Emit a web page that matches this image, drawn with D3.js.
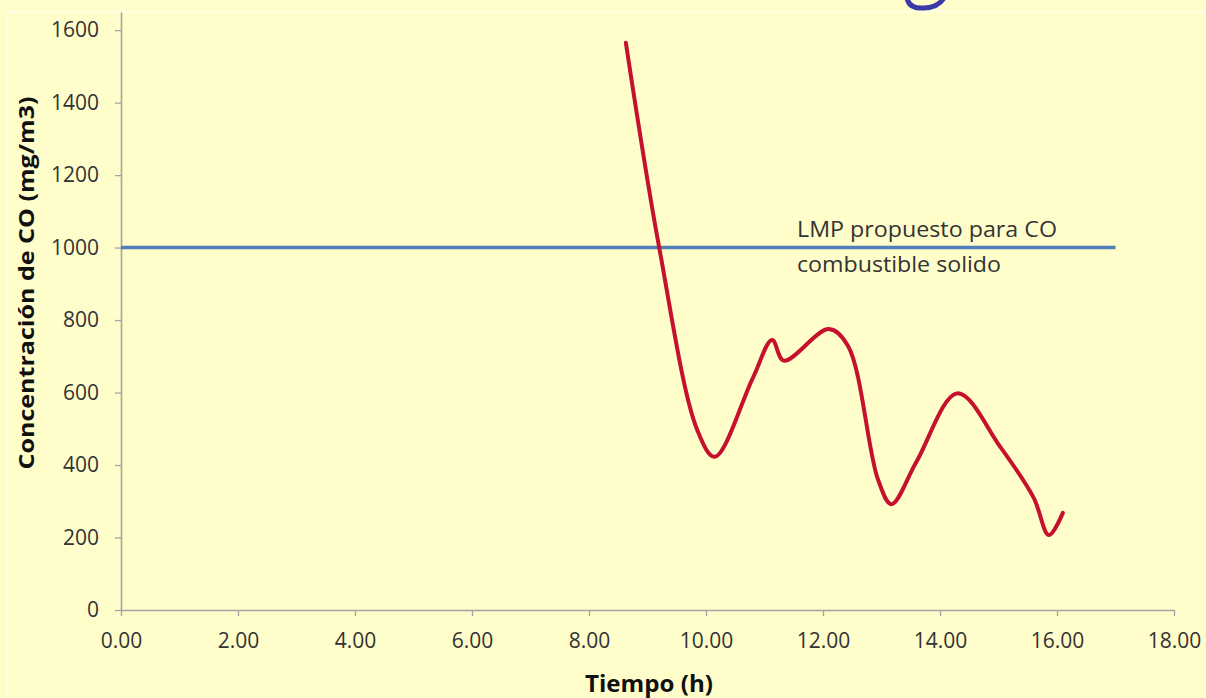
<!DOCTYPE html>
<html>
<head>
<meta charset="utf-8">
<script src="https://cdn.jsdelivr.net/npm/d3@7"></script>
<style>
  html, body { margin: 0; padding: 0; background: #FFFDCA; }
  svg { display: block; }
</style>
</head>
<body>
<svg id="chart" width="1206" height="698"></svg>
<script>
// ---- data ----
const coTimes  = [8.63, 9.2, 9.85, 10.15, 10.8, 11.13, 11.33, 12.1, 12.43, 12.94, 13.17, 13.6, 14.3, 15.03, 15.6, 15.86, 16.1];
const coValues = [1565, 1000, 497, 423, 640, 745, 688, 775, 728, 360, 292, 410, 598, 450, 310, 207, 268];
const limitTimes  = [0, 17];
const limitValues = [1000, 1000];
const xTickValues = [0, 2, 4, 6, 8, 10, 12, 14, 16, 18];
const yTickValues = [0, 200, 400, 600, 800, 1000, 1200, 1400, 1600];
const xTitle = "Tiempo (h)";
const yTitle = "Concentración de CO (mg/m3)";
const noteLines = ["LMP propuesto para CO", "combustible solido"];

const svg = d3.select("#chart");

// background + chart-area border lines
svg.append("rect").attr("width", 1206).attr("height", 698).attr("fill", "#FFFDCA");
svg.append("line").attr("x1", 7).attr("x2", 1206).attr("y1", 11.5).attr("y2", 11.5)
   .attr("stroke", "#FFFFEE").attr("stroke-width", 1.5);
svg.append("line").attr("x1", 7.5).attr("x2", 7.5).attr("y1", 11).attr("y2", 698)
   .attr("stroke", "#FFFFEE").attr("stroke-width", 1.5);

// cropped decorative glyph at top
svg.append("path").attr("d", "M907,-2 Q909,9 924,8 Q938,7.5 944,-2")
   .attr("fill", "none").attr("stroke", "#3A3AA8").attr("stroke-width", 5).attr("stroke-linecap", "round");

const x = d3.scaleLinear().domain([0, 18]).range([121, 1174]);
const y = d3.scaleLinear().domain([0, 1650]).range([610, 12]);

const axisColor = "#A3A3A3";
const tickFont = "'Open Sans', 'Liberation Sans', sans-serif";

// y axis
const gy = svg.append("g").attr("transform", `translate(${x(0)},0)`)
  .call(d3.axisLeft(y).tickValues(yTickValues).tickSize(6).tickSizeOuter(0).tickPadding(16).tickFormat(d3.format("d")));
gy.select(".domain").attr("stroke", axisColor).attr("stroke-width", 1.6);
gy.selectAll(".tick line").attr("stroke", axisColor).attr("stroke-width", 1.3);
gy.selectAll(".tick text").attr("fill", "#333333").style("font-family", tickFont).style("font-size", "21px");

// x axis
const gx = svg.append("g").attr("transform", `translate(0,${y(0)})`)
  .call(d3.axisBottom(x).tickValues(xTickValues).tickSize(6).tickSizeOuter(0).tickFormat(d3.format(".2f")));
gx.select(".domain").attr("stroke", axisColor).attr("stroke-width", 1.6);
gx.selectAll(".tick line").attr("stroke", axisColor).attr("stroke-width", 1.3);
gx.selectAll(".tick text").attr("fill", "#333333").attr("y", 38).attr("dy", 0)
  .style("font-family", tickFont).style("font-size", "21px");

// limit line
const limitData = limitTimes.map((t, i) => ({ t, v: limitValues[i] }));
svg.append("path").datum(limitData)
  .attr("d", d3.line().x(d => x(d.t)).y(d => y(d.v)))
  .attr("fill", "none").attr("stroke", "#4F7FBA").attr("stroke-width", 3.5);

// CO curve
const coData = coTimes.map((t, i) => ({ t, v: coValues[i] }));
svg.append("path").datum(coData)
  .attr("d", d3.line().curve(d3.curveCatmullRom.alpha(0.5)).x(d => x(d.t)).y(d => y(d.v)))
  .attr("fill", "none").attr("stroke", "#C5112E").attr("stroke-width", 4)
  .attr("stroke-linejoin", "round").attr("stroke-linecap", "round");

// annotation
const noteFont = "'Open Sans', 'Liberation Sans', sans-serif";
const noteLens = [260, 204];
const noteBase = [237, 272];
noteLines.forEach((s, i) => {
  svg.append("text").attr("x", 797).attr("y", noteBase[i])
    .attr("textLength", noteLens[i]).attr("lengthAdjust", "spacingAndGlyphs")
    .attr("fill", "#333333").style("font-family", noteFont).style("font-size", "21px")
    .text(s);
});

// axis titles
svg.append("text").attr("x", 649).attr("y", 692).attr("text-anchor", "middle")
  .attr("textLength", 128).attr("lengthAdjust", "spacingAndGlyphs")
  .attr("fill", "#111111").style("font-family", "'Open Sans', sans-serif")
  .style("font-weight", "bold").style("font-size", "23px").text(xTitle);

svg.append("text").attr("transform", "translate(34,283) rotate(-90)").attr("text-anchor", "middle")
  .attr("textLength", 373).attr("lengthAdjust", "spacingAndGlyphs")
  .attr("fill", "#111111").style("font-family", "'Open Sans', sans-serif")
  .style("font-weight", "bold").style("font-size", "22px").text(yTitle);
</script>
</body>
</html>
